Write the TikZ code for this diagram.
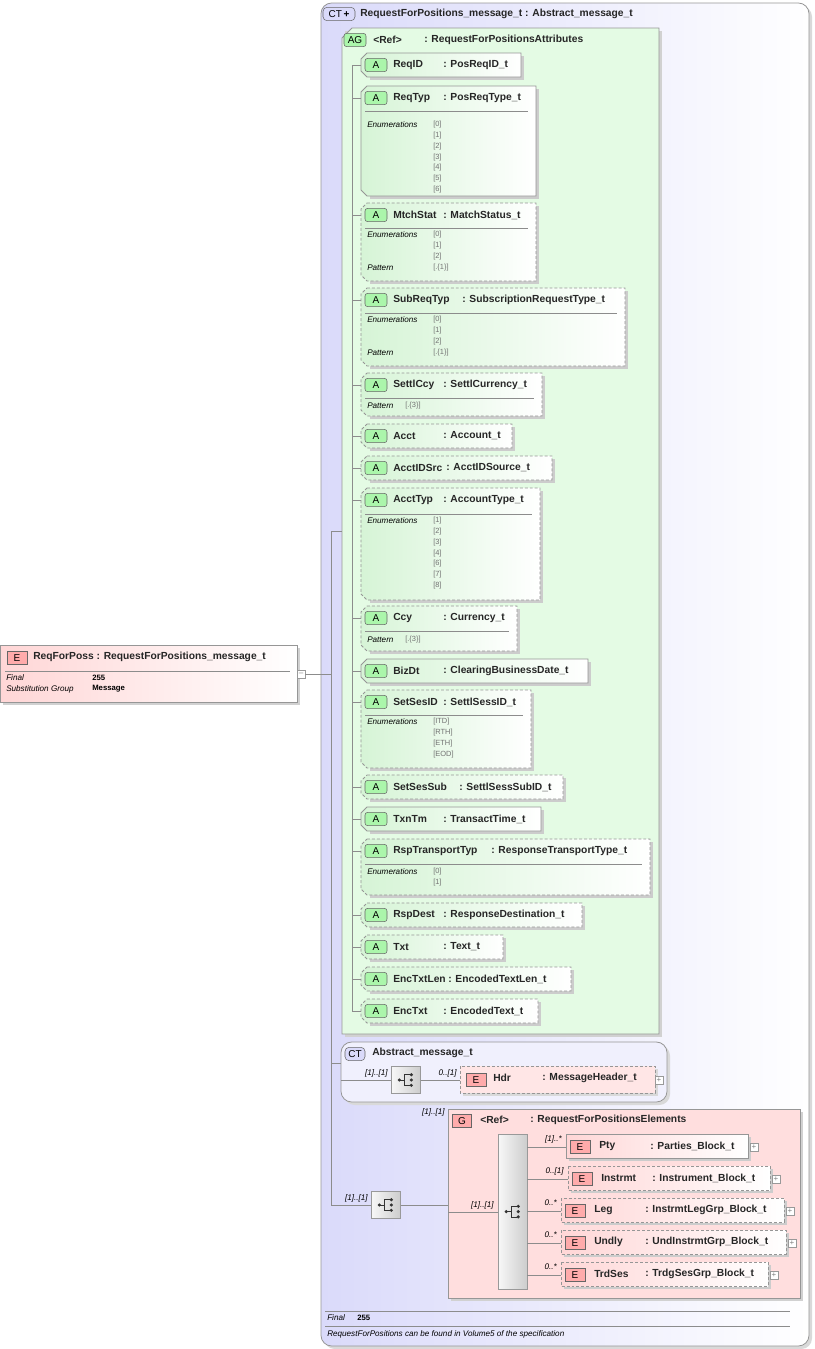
\documentclass[tikz,border=0pt]{standalone}
\usepackage{fontspec}
\setmainfont{Liberation Sans}
\definecolor{gA}{RGB}{214,244,214}
\definecolor{gBg}{RGB}{228,251,228}
\definecolor{rA}{RGB}{255,214,214}
\definecolor{rBg}{RGB}{255,222,222}
\definecolor{ctBg}{RGB}{218,218,250}
\definecolor{bd}{RGB}{150,150,150}
\tikzset{
 hdr/.style={font=\fontsize{7.7}{10}\selectfont\bfseries, inner sep=0pt, text=black!85},
 lbl/.style={font=\fontsize{6.1}{8}\selectfont\itshape, inner sep=0pt},
 val/.style={font=\fontsize{5.6}{7}\selectfont, inner sep=0pt, text=black!55},
 ln/.style={draw=black!45, line width=0.5pt},
 sh/.style={fill=black!20},
 dsh/.style={dash pattern=on 2.2pt off 1.5pt},
 sol/.style={},
 gbadge/.style={draw=black!60, fill=gA!80!green, rounded corners=2pt, minimum width=16.5pt, minimum height=10pt, inner sep=0pt, font=\fontsize{7.5}{8}\selectfont},
 ebadge/.style={draw=black!60, fill=rA!80!red, minimum width=15pt, minimum height=10pt, inner sep=0pt, font=\fontsize{7.5}{8}\selectfont},
 plusbox/.style={draw=black!40, fill=white, minimum size=6pt, inner sep=0pt, font=\fontsize{6}{6}\selectfont, text=black!50},
 seqbox/.style={draw=black!40, left color=black!3, right color=black!20, inner sep=0pt},
}
\newcommand\seqicon[1]{%
 \fill[black!80] ([xshift=-5pt]#1) circle (1.3pt);
 \draw[black!80, line width=0.6pt] ([xshift=-5pt]#1)--([xshift=-1pt]#1);
 \draw[black!80, line width=0.6pt] ([xshift=3pt,yshift=4pt]#1)--([xshift=-1pt,yshift=4pt]#1)--([xshift=-1pt,yshift=-4pt]#1)--([xshift=3pt,yshift=-4pt]#1);
 \foreach \dy in {-4,0,4} \fill[black!80] ([xshift=4pt,yshift=\dy pt]#1) circle (1.3pt);
}
% #1 id, #2 y1, #3 y2, #4 right, #5 name, #6 type, #7 style, #8 colon x
\newcommand\attrbox[8]{%
 \fill[sh] (370,#2+3)--(#4+3,#2+3)--(#4+3,#3+3)--(370,#3+3)--cycle;
 \path[draw=bd, line width=0.6pt, left color=gA, right color=white, #7] (367,#2)--(#4,#2)--(#4,#3)--(367,#3)--(361,{#3-6})--(361,#2+6)--cycle;
 \draw[ln] (352,#2+12)--(361,#2+12);
 \node[gbadge] at (376,#2+12) {A};
 \node[hdr, anchor=west] (#1) at (393,#2+12) {#5};
 \node[hdr, anchor=west] at (#8,#2+12) {: #6};
}
\newcommand\sepline[2]{\draw[black!45, line width=0.5pt] (365,#1)--(#2,#1);}
\newcommand\enumlist[2]{%
 \node[lbl, anchor=west] at (367,#1) {Enumerations};
 \foreach \v [count=\i from 0] in {#2} {\node[val, anchor=west] at (433,{#1+\i*10.7}) {[\v]};}
}
% element: #1 id, #2 x, #3 y1, #4 right, #5 name, #6 type, #7 style, #8 colon x, #9 card
\newcommand\elembox[9]{%
 \fill[sh] (#2+3,#3+3) rectangle (#4+3,#3+27);
 \path[draw=bd, line width=0.6pt, left color=rA, right color=white, #7] (#2,#3) rectangle (#4,#3+24);
 \node[ebadge] at (#2+14,#3+13) {E};
 \node[hdr, anchor=west] (#1) at (#2+33,#3+12) {#5};
 \node[hdr, anchor=west] at (#8,#3+12) {: #6};
 \node[plusbox] (#1p) at (#4+6,#3+13) {+};
 \draw[ln] (527,#3+13)--(#2,#3+13);
 \node[lbl, anchor=east] at (#2-4,#3+5) {#9};
}
\begin{document}
\begin{tikzpicture}[x=0.75pt,y=-0.75pt]
\useasboundingbox (0,0) rectangle (814,1349);
% outer CT box
\fill[black!15,rounded corners=8pt] (324,6) rectangle (812,1349);
\path[draw=bd, line width=0.6pt, rounded corners=8pt, left color=ctBg, right color=white] (321,3) rectangle (809,1346);
\node[draw=black!60, fill=ctBg, rounded corners=3pt, minimum width=24pt, minimum height=10pt, inner sep=0pt, font=\fontsize{7.5}{8}\selectfont] (ctb) at (339,14) {CT\,\textbf{+}};
\node[hdr, anchor=west] (ct) at (360,14) {RequestForPositions\_message\_t : Abstract\_message\_t};
% AG box
\fill[black!18] (345,31) rectangle (662,1037);
\path[draw=bd, line width=0.6pt, fill=gBg] (352,28)--(659,28)--(659,1034)--(342,1034)--(342,38)--cycle;
\node[gbadge] (agb) at (355,40) {AG};
\node[hdr, anchor=west] (ag) at (373,40) {<Ref>};
\node[hdr, anchor=west] at (424,40) {: RequestForPositionsAttributes};
\draw[ln] (352,65)--(352,1011);
% attributes
\attrbox{a1}{53}{77}{521}{ReqID}{PosReqID\_t}{sol}{443}
\attrbox{a2}{86}{196}{536}{ReqTyp}{PosReqType\_t}{sol}{443}
\sepline{111}{528}\enumlist{125}{0,1,2,3,4,5,6}
\attrbox{a3}{203}{281}{536}{MtchStat}{MatchStatus\_t}{dsh}{443}
\sepline{228}{528}\enumlist{235}{0,1,2}
\node[lbl,anchor=west] at (367,268) {Pattern}; \node[val,anchor=west] at (433,268) {[.\{1\}]};
\attrbox{a4}{288}{366}{625}{SubReqTyp}{SubscriptionRequestType\_t}{dsh}{462}
\sepline{313}{617}\enumlist{320}{0,1,2}
\node[lbl,anchor=west] at (367,353) {Pattern}; \node[val,anchor=west] at (433,353) {[.\{1\}]};
\attrbox{a5}{373}{416}{542}{SettlCcy}{SettlCurrency\_t}{dsh}{443}
\sepline{398}{534}
\node[lbl,anchor=west] at (367,406) {Pattern}; \node[val,anchor=west] at (405,406) {[.\{3\}]};
\attrbox{a6}{424}{448}{512}{Acct}{Account\_t}{dsh}{443}
\attrbox{a7}{456}{480}{552}{AcctIDSrc}{AcctIDSource\_t}{dsh}{446}
\attrbox{a8}{488}{600}{540}{AcctTyp}{AccountType\_t}{dsh}{443}
\sepline{514}{532}\enumlist{521}{1,2,3,4,6,7,8}
\attrbox{a9}{606}{651}{517}{Ccy}{Currency\_t}{dsh}{443}
\sepline{631}{509}
\node[lbl,anchor=west] at (367,640) {Pattern}; \node[val,anchor=west] at (405,640) {[.\{3\}]};
\attrbox{a10}{659}{683}{588}{BizDt}{ClearingBusinessDate\_t}{sol}{443}
\attrbox{a11}{690}{768}{531}{SetSesID}{SettlSessID\_t}{dsh}{443}
\sepline{715}{523}\enumlist{722}{ITD,RTH,ETH,EOD}
\attrbox{a12}{775}{799}{563}{SetSesSub}{SettlSessSubID\_t}{dsh}{459}
\attrbox{a13}{807}{831}{541}{TxnTm}{TransactTime\_t}{sol}{443}
\attrbox{a14}{839}{895}{650}{RspTransportTyp}{ResponseTransportType\_t}{dsh}{491}
\sepline{864}{642}\enumlist{872}{0,1}
\attrbox{a15}{903}{927}{582}{RspDest}{ResponseDestination\_t}{dsh}{443}
\attrbox{a16}{935}{959}{503}{Txt}{Text\_t}{dsh}{443}
\attrbox{a17}{967}{991}{571}{EncTxtLen}{EncodedTextLen\_t}{dsh}{448}
\attrbox{a18}{999}{1023}{538}{EncTxt}{EncodedText\_t}{dsh}{443}
% main element
\fill[black!18] (3,648) rectangle (300,705);
\path[draw=bd, line width=0.6pt, left color=rA, right color=white] (0,645) rectangle (297,702);
\node[ebadge] (eb) at (17,658) {E};
\node[hdr, anchor=west] (main) at (33,657) {ReqForPoss : RequestForPositions\_message\_t};
\draw[black!45, line width=0.5pt] (5,671)--(290,671);
\node[lbl, anchor=west] at (6,678) {Final};
\node[lbl, anchor=west] at (6,689) {Substitution Group};
\node[val, text=black, font=\fontsize{5.8}{7}\selectfont\bfseries, anchor=west] at (92,678) {255};
\node[val, text=black, font=\fontsize{5.8}{7}\selectfont\bfseries, anchor=west] at (92,689) {Message};
\node[plusbox] (minus) at (301,674) {--};
\draw[ln] (minus.east)--(331,674);
\draw[ln] (331,531)--(331,1205);
\draw[ln] (331,531)--(342,531);
\draw[ln] (331,1063)--(341,1063);
% Abstract message
\fill[black!15, rounded corners=8pt] (344,1045) rectangle (670,1105);
\draw[draw=bd, line width=0.6pt, rounded corners=8pt, fill=ctBg!40] (341,1042) rectangle (667,1102);
\node[draw=black!60, fill=ctBg, rounded corners=3pt, minimum width=15pt, minimum height=10pt, inner sep=0pt, font=\fontsize{7.5}{8}\selectfont] at (355,1054) {CT};
\node[hdr, anchor=west] (abs) at (372,1053) {Abstract\_message\_t};
\node[seqbox, minimum width=22pt, minimum height=20pt] (seq1) at (406,1080) {};
\seqicon{seq1.center}
\draw[ln] (341,1080)--(seq1.west);
\node[lbl, anchor=east] at (388,1073) {[1]..[1]};
\fill[black!15] (463,1069) rectangle (658,1096);
\path[draw=bd, line width=0.6pt, fill=rA!60!white, dsh] (460,1066) rectangle (655,1093);
\node[ebadge] at (476,1080) {E};
\node[hdr, anchor=west] (hdrn) at (493,1078) {Hdr};
\node[hdr, anchor=west] at (542,1078) {: MessageHeader\_t};
\node[plusbox] at (659,1080) {+};
\draw[ln] (seq1.east)--(460,1080);
\node[lbl, anchor=east] at (457,1073) {0..[1]};
% second sequence
\node[seqbox, minimum width=22pt, minimum height=20pt] (seq2) at (386,1205) {};
\seqicon{seq2.center}
\draw[ln] (331,1205)--(seq2.west);
\node[lbl, anchor=east] at (368,1198) {[1]..[1]};
% G box
\fill[black!18] (451,1112) rectangle (803,1301);
\path[draw=bd, line width=0.6pt, fill=rBg] (448,1109) rectangle (800,1298);
\node[lbl, anchor=east] at (445,1112) {[1]..[1]};
\node[draw=black!60, fill=rA!80!red, minimum width=14pt, minimum height=10pt, inner sep=0pt, font=\fontsize{7.5}{8}\selectfont] at (462,1121) {G};
\node[hdr, anchor=west] (g) at (480,1120) {<Ref>};
\node[hdr, anchor=west] at (530,1120) {: RequestForPositionsElements};
\node[seqbox, minimum width=22pt, minimum height=116pt, anchor=north west] (seq3) at (498,1134) {};
\seqicon{seq3.center}
\draw[ln] (seq2.east)--(448,1205);
\draw[ln] (448,1212)--(498,1212);
\node[lbl, anchor=east] at (494,1205) {[1]..[1]};
\elembox{e1}{566}{1134}{748}{Pty}{Parties\_Block\_t}{sol}{650}{[1]..*}
\elembox{e2}{568}{1166}{770}{Instrmt}{Instrument\_Block\_t}{dsh}{652}{0..[1]}
\elembox{e3}{561}{1198}{784}{Leg}{InstrmtLegGrp\_Block\_t}{dsh}{645}{0..*}
\elembox{e4}{561}{1230}{786}{Undly}{UndInstrmtGrp\_Block\_t}{dsh}{645}{0..*}
\elembox{e5}{561}{1262}{768}{TrdSes}{TrdgSesGrp\_Block\_t}{dsh}{645}{0..*}
% footer
\draw[black!45, line width=0.5pt] (325,1311)--(790,1311);
\node[lbl, anchor=west] at (327,1318) {Final};
\node[val, text=black, font=\fontsize{5.8}{7}\selectfont\bfseries, anchor=west] at (357,1318) {255};
\draw[black!45, line width=0.5pt] (325,1326)--(790,1326);
\node[lbl, anchor=west] (foot) at (327,1334) {RequestForPositions can be found in Volume5 of the specification};
\end{tikzpicture}
\end{document}
